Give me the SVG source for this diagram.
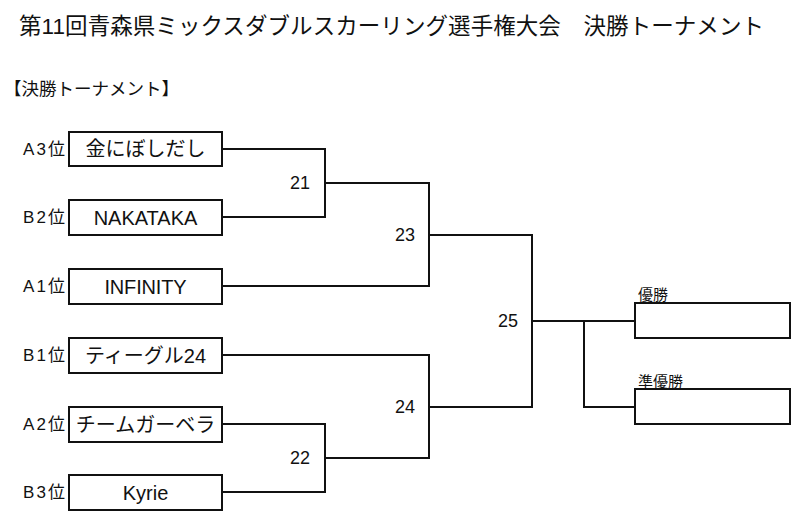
<svg xmlns="http://www.w3.org/2000/svg" width="800" height="518" viewBox="0 0 800 518">
<style>
text{font-family:"Liberation Sans","Noto Sans CJK JP",sans-serif;fill:#111}
.box{fill:#fff;stroke:#111;stroke-width:2}
.ln{fill:none;stroke:#111;stroke-width:2}
.team{font-size:20px;text-anchor:middle}
.seed{font-size:17px;text-anchor:end}
.num{font-size:18px;text-anchor:end}
.res{font-size:15px}
</style>
<rect width="800" height="518" fill="#fff"/>
<text x="19" y="34" font-size="22.5" textLength="745" lengthAdjust="spacing">第11回青森県ミックスダブルスカーリング選手権大会　決勝トーナメント</text>
<text x="4" y="95" font-size="17.5" textLength="175" lengthAdjust="spacing">【決勝トーナメント】</text>
<g id="connectors">
<path class="ln" d="M222,149H325V217H222M325,183H429V286H222M429,235H532V407H429M222,355H429V458H325M222,424H325V492H222M532,321H635M584,321V407H635"/>
</g>
<g id="n-a3"><text class="seed" x="65" y="155" textLength="42">A3位</text><rect class="box" x="69" y="132" width="153" height="34"/><text class="team" x="145.5" y="156" font-size="19">金にぼしだし</text></g>
<g id="n-b2"><text class="seed" x="65" y="223" textLength="42">B2位</text><rect class="box" x="69" y="200" width="153" height="35"/><text class="team" x="145.5" y="225" font-size="22">NAKATAKA</text></g>
<g id="n-a1"><text class="seed" x="65" y="292" textLength="42">A1位</text><rect class="box" x="69" y="269" width="153" height="35"/><text class="team" x="145.5" y="294" font-size="22" textLength="82" lengthAdjust="spacing">INFINITY</text></g>
<g id="n-b1"><text class="seed" x="65" y="361" textLength="42">B1位</text><rect class="box" x="69" y="338" width="153" height="35"/><text class="team" x="145.5" y="363">ティーグル24</text></g>
<g id="n-a2"><text class="seed" x="65" y="430" textLength="42">A2位</text><rect class="box" x="69" y="407" width="153" height="35"/><text class="team" x="145.5" y="432">チームガーベラ</text></g>
<g id="n-b3"><text class="seed" x="65" y="498" textLength="42">B3位</text><rect class="box" x="69" y="475" width="153" height="35"/><text class="team" x="145.5" y="500">Kyrie</text></g>
<g id="m21"><text class="num" x="310" y="189">21</text></g>
<g id="m22"><text class="num" x="310" y="464">22</text></g>
<g id="m23"><text class="num" x="415" y="241">23</text></g>
<g id="m24"><text class="num" x="415" y="413">24</text></g>
<g id="m25"><text class="num" x="518" y="327">25</text></g>
<g id="n-champ"><text class="res" x="638" y="300">優勝</text><rect class="box" x="635" y="303" width="155" height="35"/></g>
<g id="n-runner"><text class="res" x="638" y="387">準優勝</text><rect class="box" x="635" y="389" width="155" height="35"/></g>
</svg>
